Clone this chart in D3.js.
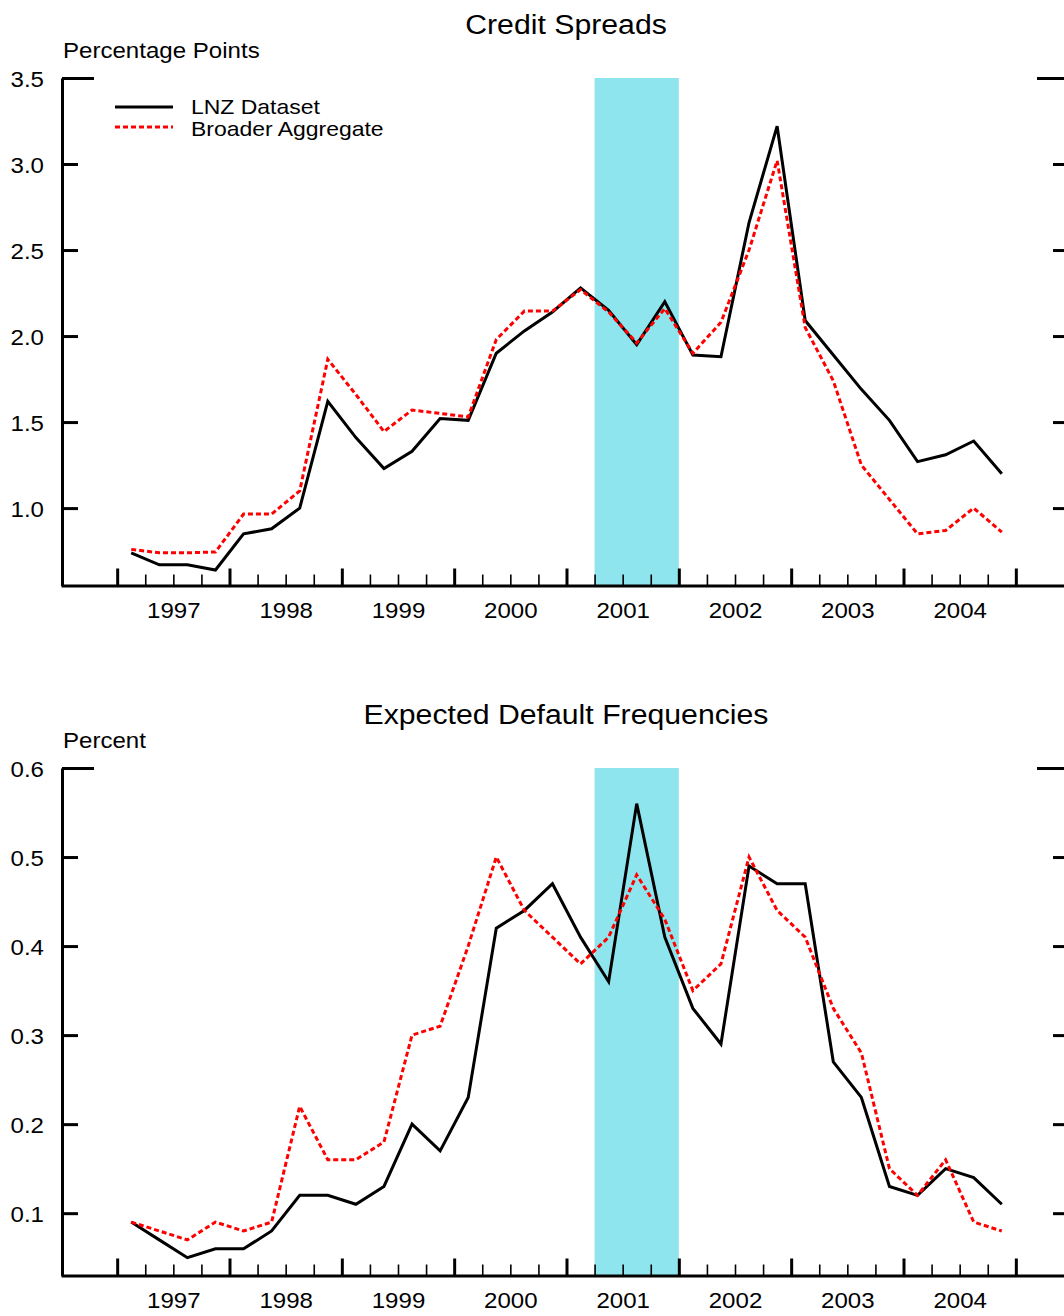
<!DOCTYPE html>
<html>
<head>
<meta charset="utf-8">
<script src="https://cdn.jsdelivr.net/npm/d3@7"></script>
<style>
  html, body { margin: 0; padding: 0; background: #fff; }
  svg { display: block; font-family: "Liberation Sans", Arial, Helvetica, sans-serif; }
</style>
</head>
<body>
<script>
// Quarterly observations, 1997Q1 - 2004Q4
const quarters = [
  "1997Q1","1997Q2","1997Q3","1997Q4","1998Q1","1998Q2","1998Q3","1998Q4",
  "1999Q1","1999Q2","1999Q3","1999Q4","2000Q1","2000Q2","2000Q3","2000Q4",
  "2001Q1","2001Q2","2001Q3","2001Q4","2002Q1","2002Q2","2002Q3","2002Q4",
  "2003Q1","2003Q2","2003Q3","2003Q4","2004Q1","2004Q2","2004Q3","2004Q4"
];

// Credit spreads, percentage points
const spreadLNZ = [
  0.74, 0.67, 0.67, 0.64, 0.85, 0.88, 1.00, 1.62,
  1.41, 1.23, 1.33, 1.52, 1.51, 1.90, 2.03, 2.14,
  2.28, 2.15, 1.95, 2.20, 1.89, 1.88, 2.66, 3.22,
  2.09, 1.89, 1.69, 1.51, 1.27, 1.31, 1.39, 1.20
];
const spreadBroad = [
  0.76, 0.74, 0.74, 0.745, 0.965, 0.965, 1.10, 1.865,
  1.66, 1.445, 1.57, 1.55, 1.53, 1.98, 2.145, 2.145,
  2.27, 2.14, 1.96, 2.16, 1.90, 2.08, 2.50, 3.02,
  2.05, 1.74, 1.25, 1.05, 0.85, 0.87, 1.00, 0.86
];

// Expected default frequencies, percent
const edfLNZ = [
  0.09, 0.07, 0.05, 0.06, 0.06, 0.08, 0.12, 0.12,
  0.11, 0.13, 0.20, 0.17, 0.23, 0.42, 0.44, 0.47,
  0.41, 0.36, 0.56, 0.41, 0.33, 0.29, 0.49, 0.47,
  0.47, 0.27, 0.23, 0.13, 0.12, 0.15, 0.14, 0.11
];
const edfBroad = [
  0.09, 0.08, 0.07, 0.09, 0.08, 0.09, 0.22, 0.16,
  0.16, 0.18, 0.30, 0.31, 0.40, 0.50, 0.44, 0.41,
  0.38, 0.41, 0.48, 0.43, 0.35, 0.38, 0.50, 0.44,
  0.41, 0.33, 0.28, 0.15, 0.12, 0.16, 0.09, 0.08
];

const seriesNames = ["LNZ Dataset", "Broader Aggregate"];
const spreadTicks = [1.0, 1.5, 2.0, 2.5, 3.0, 3.5];
const edfTicks = [0.1, 0.2, 0.3, 0.4, 0.5, 0.6];
const yearLabels = [1997, 1998, 1999, 2000, 2001, 2002, 2003, 2004];
const recession = [2001.25, 2002.0];

// ---- layout ----
const W = 1064, H = 1316;
const SX = 1.12;           // horizontal text stretch
const LABEL = 21.5, TITLE = 27, LEGEND = 20.5;

const svg = d3.select("body").append("svg")
  .attr("width", W).attr("height", H);
svg.append("rect").attr("width", W).attr("height", H).attr("fill", "#fff");

const x = d3.scaleLinear().domain([1996.5, 2005.5]).range([61, 1072]);
const qTime = s => +s.slice(0, 4) + (+s.slice(5) - 0.5) / 4;

const majorTicks = d3.range(1997, 2006);
const minorTicks = d3.range(1997, 2005).flatMap(y => [y + 0.25, y + 0.5, y + 0.75]);

function stretchedText(g, px, py, str, size, anchor) {
  return g.append("text")
    .attr("transform", `translate(${px},${py}) scale(${SX},1)`)
    .attr("text-anchor", anchor)
    .style("font-size", size + "px")
    .attr("fill", "#000")
    .text(str);
}

const panels = [
  { title: "Credit Spreads", unit: "Percentage Points", top: 78, bottom: 585.5,
    domain: [0.55, 3.5], ticks: spreadTicks, series: [spreadLNZ, spreadBroad],
    titleY: 34, unitY: 58, legend: true },
  { title: "Expected Default Frequencies", unit: "Percent", top: 768, bottom: 1275.5,
    domain: [0.03, 0.6], ticks: edfTicks, series: [edfLNZ, edfBroad],
    titleY: 724, unitY: 748, legend: false }
];

const styles = [
  { stroke: "#000", dash: null },
  { stroke: "#ff0000", dash: "5,3" }
];

panels.forEach(p => {
  const g = svg.append("g");
  const y = d3.scaleLinear().domain(p.domain).range([p.bottom, p.top]);

  // recession band
  g.append("rect")
    .attr("x", x(recession[0])).attr("width", x(recession[1]) - x(recession[0]))
    .attr("y", p.top).attr("height", p.bottom - p.top)
    .attr("fill", "#8ee5ee");

  // series
  const line = d3.line().x(d => x(d.t)).y(d => y(d.v));
  p.series.forEach((vals, i) => {
    const pts = quarters.map((q, k) => ({ t: qTime(q), v: vals[k] }));
    g.append("path")
      .datum(pts)
      .attr("d", line)
      .attr("fill", "none")
      .attr("stroke", styles[i].stroke)
      .attr("stroke-width", 3)
      .attr("stroke-dasharray", styles[i].dash);
  });

  // bottom axis: quarters, years, labels
  const xMinor = g.append("g").attr("transform", `translate(0,${p.bottom})`)
    .call(d3.axisBottom(x).tickValues(minorTicks).tickSize(-11).tickFormat(""));
  xMinor.select(".domain").remove();
  xMinor.selectAll(".tick line").attr("stroke-width", 1.6);

  const xMajor = g.append("g").attr("transform", `translate(0,${p.bottom})`)
    .call(d3.axisBottom(x).tickValues(majorTicks).tickSize(-17).tickSizeOuter(0).tickFormat(""));
  xMajor.select(".domain").attr("stroke-width", 3.2);
  xMajor.selectAll(".tick line").attr("stroke-width", 3);

  const xLab = g.append("g").attr("transform", `translate(0,${p.bottom})`)
    .call(d3.axisBottom(x).tickValues(yearLabels.map(v => v + 0.5)).tickSize(0)
      .tickPadding(17).tickFormat(d => String(Math.floor(d))));
  xLab.select(".domain").remove();
  xLab.selectAll("text")
    .attr("transform", `scale(${SX},1)`)
    .style("font-size", LABEL + "px").style("font-family", null).attr("fill", "#000");

  // left axis
  const yAxis = g.append("g").attr("transform", "translate(62,0)")
    .call(d3.axisLeft(y).tickValues(p.ticks).tickSize(-16).tickSizeOuter(0)
      .tickPadding(17).tickFormat(d3.format(".1f")));
  yAxis.select(".domain").attr("stroke-width", 3);
  yAxis.selectAll(".tick line").attr("stroke-width", 3)
    .attr("x2", d => d === p.ticks[p.ticks.length - 1] ? 32 : 16);
  yAxis.selectAll("text")
    .attr("x", -18 / SX)
    .attr("transform", `scale(${SX},1)`)
    .attr("dy", "0.38em")
    .style("font-size", LABEL + "px").style("font-family", null).attr("fill", "#000");

  // right-hand ticks
  const yRight = g.append("g").attr("transform", "translate(1069,0)")
    .call(d3.axisRight(y).tickValues(p.ticks).tickSize(-16).tickFormat(""));
  yRight.select(".domain").remove();
  yRight.selectAll(".tick line").attr("stroke-width", 3)
    .attr("x2", d => d === p.ticks[p.ticks.length - 1] ? -32 : -16);

  // titles
  stretchedText(g, 566, p.titleY, p.title, TITLE, "middle");
  stretchedText(g, 63, p.unitY, p.unit, LABEL, "start");

  // legend
  if (p.legend) {
    const lg = g.append("g");
    const rows = [{ y: 107, ty: 114 }, { y: 127, ty: 136 }];
    seriesNames.forEach((name, i) => {
      lg.append("line")
        .attr("x1", 115).attr("x2", 173)
        .attr("y1", rows[i].y).attr("y2", rows[i].y)
        .attr("stroke", styles[i].stroke).attr("stroke-width", 3)
        .attr("stroke-dasharray", styles[i].dash);
      stretchedText(lg, 191, rows[i].ty, name, LEGEND, "start");
    });
  }
});
</script>
</body>
</html>
